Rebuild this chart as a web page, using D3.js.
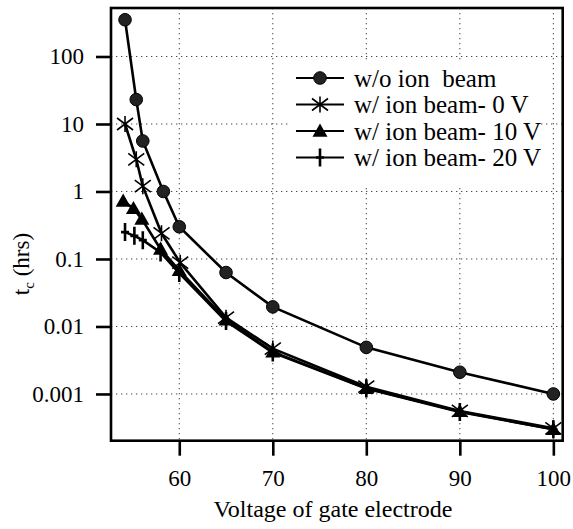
<!DOCTYPE html>
<html>
<head>
<meta charset="utf-8">
<script src="https://cdn.jsdelivr.net/npm/d3@7"></script>
</head>
<body style="margin:0;background:#fff">
<svg id="fig" width="573" height="529" style="display:block"></svg>
<script>
// ---------- data ----------
const seriesNames = ["w/o ion  beam", "w/ ion beam- 0 V", "w/ ion beam- 10 V", "w/ ion beam- 20 V"];
const xNoBeam = [54.2, 55.4, 56.1, 58.3, 60, 65, 70, 80, 90, 100];
const yNoBeam = [350, 23, 5.6, 1.0, 0.3, 0.063, 0.0195, 0.0049, 0.0021, 0.001];
const xBeam0 = [54.2, 55.4, 56.1, 58.1, 60.1, 65, 70, 80, 90, 100];
const yBeam0 = [10, 3.0, 1.2, 0.24, 0.088, 0.0135, 0.0047, 0.00128, 0.00056, 0.00031];
const xBeam10 = [54.0, 55.1, 56.0, 58.0, 60, 65, 70, 80, 90, 100];
const yBeam10 = [0.72, 0.56, 0.39, 0.14, 0.068, 0.0125, 0.0042, 0.00121, 0.00055, 0.0003];
const xBeam20 = [54.2, 55.2, 56.1, 58.0, 60, 65, 70, 80, 90, 100];
const yBeam20 = [0.25, 0.22, 0.19, 0.125, 0.062, 0.012, 0.0041, 0.0012, 0.00054, 0.0003];
const xTicks = [60, 70, 80, 90, 100];
const xTickLabels = ["60", "70", "80", "90", "100"];
const yTicks = [100, 10, 1, 0.1, 0.01, 0.001];
const yTickLabels = ["100", "10", "1", "0.1", "0.01", "0.001"];
const xTitle = "Voltage of gate electrode";

// ---------- layout ----------
const FONT = "Liberation Serif";
const L = 111, R = 562.7, T = 8, B = 440.7;
const svg = d3.select("#fig");
const x = d3.scaleLinear().domain([52.7, 101]).range([L, R]);
const y = d3.scaleLog().domain([2.03e-4, 523]).range([B, T]);

// grid
const grid = svg.append("g").attr("stroke", "#444").attr("stroke-width", 1).attr("stroke-dasharray", "1.3,3.7");
grid.selectAll("line.v").data(xTicks).join("line")
  .attr("x1", d => x(d)).attr("x2", d => x(d)).attr("y1", T).attr("y2", B);
grid.selectAll("line.h").data(yTicks).join("line")
  .attr("x1", L).attr("x2", R).attr("y1", d => y(d)).attr("y2", d => y(d));

// legend background (hides grid)
const legG = svg.append("g");
legG.append("rect").attr("x", 290).attr("y", 63).attr("width", 247).attr("height", 124).attr("fill", "#fff");

// axes
const xAxis = d3.axisBottom(x).tickValues(xTicks).tickFormat((d, i) => xTickLabels[i]).tickSize(15).tickSizeOuter(0).tickPadding(14);
const yAxis = d3.axisLeft(y).tickValues(yTicks).tickFormat((d, i) => yTickLabels[i]).tickSize(15).tickSizeOuter(0).tickPadding(12);
const gx = svg.append("g").attr("transform", `translate(0,${B})`).call(xAxis);
const gy = svg.append("g").attr("transform", `translate(${L},0)`).call(yAxis);
[gx, gy].forEach(g => {
  g.attr("font-family", FONT).attr("font-size", 23);
  g.select(".domain").remove();
  g.selectAll(".tick line").attr("stroke", "#000").attr("stroke-width", 2.6);
  g.selectAll(".tick text").attr("font-family", FONT).attr("font-size", 23).attr("fill", "#000");
});

// frame
svg.append("rect").attr("x", L).attr("y", T).attr("width", R - L).attr("height", B - T)
  .attr("fill", "none").attr("stroke", "#000").attr("stroke-width", 2.6);

// titles
svg.append("text").attr("x", 333).attr("y", 517).attr("text-anchor", "middle")
  .attr("font-family", FONT).attr("font-size", 24).text(xTitle);
const yt = svg.append("text").attr("transform", "translate(29,264) rotate(-90)").attr("text-anchor", "middle")
  .attr("font-family", FONT).attr("font-size", 23);
yt.append("tspan").text("t");
yt.append("tspan").attr("font-size", 15).attr("dy", 5).text("c");
yt.append("tspan").attr("dy", -5).text(" (hrs)");

// markers
function drawMarker(g, kind, cx, cy) {
  if (kind === 0) {
    g.append("circle").attr("cx", cx).attr("cy", cy).attr("r", 6.3).attr("fill", "#222").attr("stroke", "#000").attr("stroke-width", 1);
  } else if (kind === 1) {
    const s = 8;
    g.append("path").attr("d", `M${cx - s},${cy - s * 0.75}L${cx + s},${cy + s * 0.75}M${cx - s},${cy + s * 0.75}L${cx + s},${cy - s * 0.75}M${cx},${cy - s}L${cx},${cy + s}`)
      .attr("stroke", "#000").attr("stroke-width", 1.6).attr("fill", "none");
  } else if (kind === 2) {
    const s = 7.5;
    g.append("path").attr("d", `M${cx},${cy - s}L${cx + s},${cy + s * 0.75}L${cx - s},${cy + s * 0.75}Z`).attr("fill", "#000");
  } else {
    g.append("path").attr("d", `M${cx},${cy - 9}L${cx},${cy + 9}M${cx - 4},${cy}L${cx + 4},${cy}`)
      .attr("stroke", "#000").attr("stroke-width", 2.6).attr("fill", "none");
  }
}

const series = [
  {xs: xNoBeam, ys: yNoBeam},
  {xs: xBeam0, ys: yBeam0},
  {xs: xBeam10, ys: yBeam10},
  {xs: xBeam20, ys: yBeam20}
];
const line = d3.line().x(d => x(d[0])).y(d => y(d[1]));
const plotG = svg.append("g");
series.slice().reverse().forEach((s, ri) => {
  const k = series.length - 1 - ri;
  const pts = s.xs.map((v, i) => [v, s.ys[i]]);
  plotG.append("path").datum(pts).attr("d", line).attr("fill", "none").attr("stroke", "#000").attr("stroke-width", 2.6);
  pts.forEach(p => drawMarker(plotG, k, x(p[0]), y(p[1])));
});

// legend entries
seriesNames.forEach((name, i) => {
  const cy = 78 + i * 26.5;
  legG.append("line").attr("x1", 296).attr("x2", 344).attr("y1", cy).attr("y2", cy).attr("stroke", "#000").attr("stroke-width", 2);
  drawMarker(legG, i, 320, cy);
  legG.append("text").attr("x", 354).attr("y", cy).attr("dy", "0.35em")
    .attr("font-family", FONT).attr("font-size", 25).attr("xml:space", "preserve").style("white-space", "pre").text(name);
});
</script>
</body>
</html>
